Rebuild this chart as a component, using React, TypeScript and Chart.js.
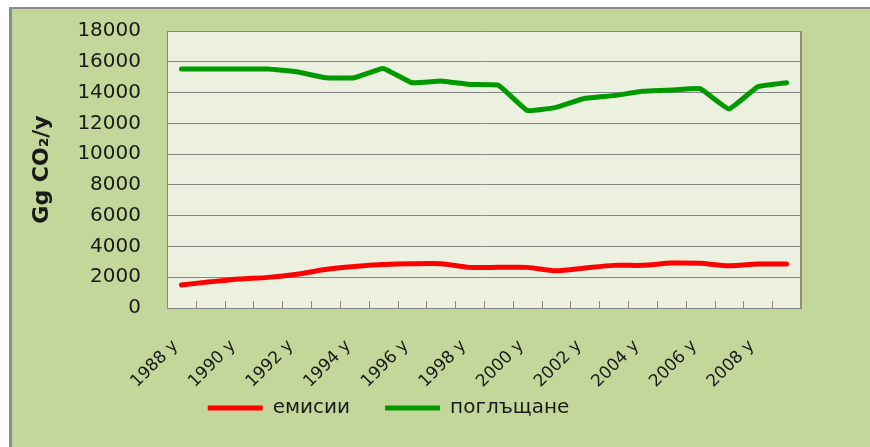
import React, { useEffect, useRef } from "react";
import { Chart, registerables } from "chart.js";

Chart.register(...registerables);

const years = [
  "1988 y", "1989 y", "1990 y", "1991 y", "1992 y", "1993 y", "1994 y", "1995 y",
  "1996 y", "1997 y", "1998 y", "1999 y", "2000 y", "2001 y", "2002 y", "2003 y",
  "2004 y", "2005 y", "2006 y", "2007 y", "2008 y", "2009 y",
];

const emissions = [
  1500, 1700, 1880, 1990, 2190, 2500, 2690, 2820, 2880, 2880, 2640,
  2640, 2640, 2420, 2600, 2770, 2770, 2920, 2900, 2750, 2860, 2860,
];

const absorption = [
  15530, 15530, 15530, 15530, 15350, 14960, 14960, 15570, 14640, 14750, 14530,
  14480, 12840, 13040, 13630, 13800, 14080, 14160, 14250, 12930, 14380, 14640,
];

const seriesNames = ["емисии", "поглъщане"];
const yTitle = "Gg CO₂/y";

const FONT = "'DejaVu Sans', sans-serif";

const framePlugin = {
  id: "framePlugin",
  afterLayout(chart: any) {
    const lg = chart.legend;
    if (lg) {
      const h = lg.bottom - lg.top;
      lg.top = 363;
      lg.bottom = 363 + h;
      lg.left -= 12;
      lg.right -= 12;
    }
  },
  beforeDraw(chart: any) {
    const { ctx, width, height, chartArea: a } = chart;
    ctx.save();
    ctx.fillStyle = "#ffffff";
    ctx.fillRect(0, 0, width, height);
    ctx.fillStyle = "#c4d79b";
    ctx.fillRect(10, 8, width - 10, height - 8);
    ctx.fillStyle = "#8c8c8c";
    ctx.fillRect(9, 7, width - 9, 2);
    ctx.fillRect(9, 7, 3, height - 7);
    ctx.fillStyle = "#ebf1de";
    ctx.fillRect(a.left, a.top, a.right - a.left, a.bottom - a.top);
    ctx.restore();
  },
  beforeDatasetsDraw(chart: any) {
    const { ctx, chartArea: a } = chart;
    const xs = chart.scales.x;
    ctx.save();
    ctx.strokeStyle = "#868686";
    ctx.lineWidth = 1;
    ctx.beginPath();
    for (let i = 0; i <= years.length; i++) {
      const px = Math.round(xs.getPixelForValue(i - 0.5)) + 0.5;
      ctx.moveTo(px, a.bottom - 7);
      ctx.lineTo(px, a.bottom);
    }
    ctx.stroke();
    ctx.strokeStyle = "#8f8f6a";
    ctx.lineWidth = 2;
    ctx.beginPath();
    ctx.moveTo(a.right, a.top);
    ctx.lineTo(a.right, a.bottom);
    ctx.stroke();
    ctx.restore();
  },
};

export default function App() {
  const ref = useRef<HTMLCanvasElement | null>(null);

  useEffect(() => {
    if (!ref.current) return;
    const chart = new Chart(ref.current, {
      type: "line",
      data: {
        labels: years,
        datasets: [
          {
            label: seriesNames[0],
            data: emissions,
            borderColor: "#ff0000",
            backgroundColor: "#ff0000",
            borderWidth: 5,
            borderCapStyle: "round",
            borderJoinStyle: "round",
            pointRadius: 0,
            tension: 0.25,
          },
          {
            label: seriesNames[1],
            data: absorption,
            borderColor: "#009a00",
            backgroundColor: "#009a00",
            borderWidth: 5,
            borderCapStyle: "round",
            borderJoinStyle: "round",
            pointRadius: 0,
            tension: 0.1,
          },
        ],
      },
      options: {
        responsive: false,
        animation: false,
        devicePixelRatio: 1,
        layout: { padding: { left: 0, right: 69, top: 31, bottom: -16 } },
        plugins: {
          legend: {
            position: "bottom",
            labels: {
              font: { family: FONT, size: 20 },
              color: "#1a1a1a",
              usePointStyle: true,
              pointStyle: "line",
              pointStyleWidth: 55,
              boxHeight: 5,
              padding: 35,
            },
          },
          tooltip: { enabled: false },
        },
        scales: {
          x: {
            offset: true,
            grid: { display: false },
            border: { display: true, color: "#868686", width: 1 },
            ticks: {
              autoSkip: false,
              maxRotation: 45,
              minRotation: 45,
              padding: 20,
              labelOffset: -6,
              font: { family: FONT, size: 17 },
              color: "#1a1a1a",
              callback: (_v: any, i: number) => (i % 2 === 0 ? years[i] : ""),
            },
            afterFit: (s: any) => {
              s.height = 90;
            },
          },
          y: {
            min: 0,
            max: 18000,
            ticks: {
              stepSize: 2000,
              padding: 0,
              font: { family: FONT, size: 20 },
              color: "#1a1a1a",
              callback: (v: any) => String(v),
            },
            grid: {
              color: "#868686",
              drawTicks: true,
              tickLength: 26,
              tickColor: "rgba(0,0,0,0)",
              lineWidth: 1,
            },
            border: { display: true, color: "#868686", width: 1 },
            title: {
              display: true,
              text: yTitle,
              font: { family: FONT, size: 22, weight: "bold" },
              color: "#1a1a1a",
              padding: { top: 29, bottom: 0 },
            },
            afterFit: (s: any) => {
              s.width = 167;
            },
          },
        },
      },
      plugins: [framePlugin],
    });
    return () => chart.destroy();
  }, []);

  return (
    <div style={{ position: "absolute", left: 0, top: 0, width: 870, height: 447 }}>
      <canvas ref={ref} width={870} height={447} style={{ width: 870, height: 447, display: "block" }} />
    </div>
  );
}
